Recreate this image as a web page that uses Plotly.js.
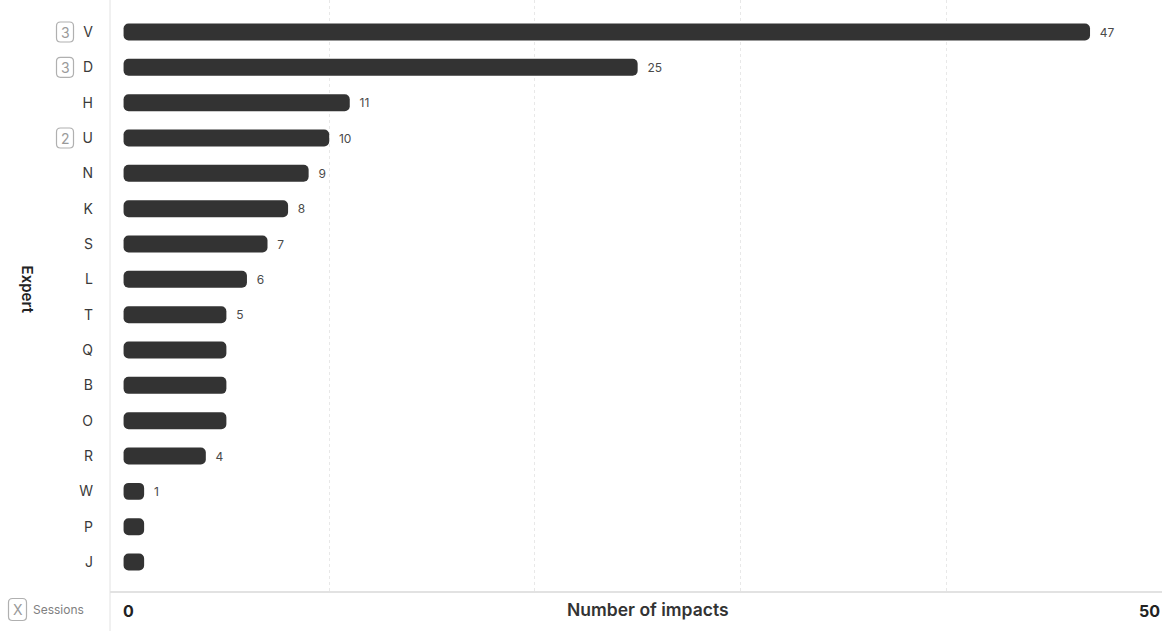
<!DOCTYPE html>
<html>
<head>
<meta charset="utf-8">
<script src="https://cdn.plot.ly/plotly-3.0.1.min.js"></script>
<style>html,body{margin:0;padding:0;background:#fff;}#chart{width:1169px;height:631px;}</style>
</head>
<body>
<div id="chart"></div>
<script>
const experts = ["V","D","H","U","N","K","S","L","T","Q","B","O","R","W","P","J"];
const impacts = [47,25,11,10,9,8,7,6,5,5,5,5,4,1,1,1];
const sessions = [3,3,null,2,null,null,null,null,null,null,null,null,null,null,null,null];
const gridTicks = [10,20,30,40];
const axisEnds = [0,50];

// show a value label only when it differs from the bar above
const labels = impacts.map((v,i) => (i === 0 || impacts[i-1] !== v) ? "\u00a0\u00a0" + v : "");

const FONT = "Inter, 'Liberation Sans', sans-serif";
const PLOT_L = 110, PLOT_W = 1052;
const px2paper = p => (p - PLOT_L) / PLOT_W;

function roundRect(w, h, r) {
  const x0 = -w/2, x1 = w/2, y0 = -h/2, y1 = h/2;
  return `M ${x0+r},${y0} L ${x1-r},${y0} Q ${x1},${y0} ${x1},${y0+r} L ${x1},${y1-r} Q ${x1},${y1} ${x1-r},${y1} ` +
         `L ${x0+r},${y1} Q ${x0},${y1} ${x0},${y1-r} L ${x0},${y0+r} Q ${x0},${y0} ${x0+r},${y0} Z`;
}

// Explicit base so that both bar ends receive the rounded corners.
const bars = {
  type: "bar", orientation: "h", y: experts,
  base: impacts.map(() => 0), x: impacts,
  text: labels, textposition: "outside", cliponaxis: false,
  textfont: {family: FONT, size: 12, color: "#4a4a4a"},
  marker: {color: "#333333", cornerradius: 5}, width: 0.48,
  hoverinfo: "skip"
};

const shapes = [
  {type:"line", xref:"paper", yref:"paper", x0:0, x1:0, y0:-0.07, y1:1, line:{color:"#e2e2e2", width:1}}
];
const annotations = [];

sessions.forEach((s,i) => {
  if (s === null) return;
  shapes.push({type:"path", xref:"paper", yref:"y", xsizemode:"pixel", ysizemode:"pixel",
    xanchor:px2paper(65), yanchor:i, path:roundRect(17,20,4),
    line:{color:"#b0b0b0", width:1.2}, fillcolor:"rgba(0,0,0,0)"});
  annotations.push({
    xref:"paper", yref:"y", x:px2paper(65), y:experts[i], xanchor:"center", yanchor:"middle",
    text:String(s), showarrow:false, font:{family:FONT, size:14, color:"#9a9a9a"}
  });
});

// Sessions legend
shapes.push({type:"path", xref:"paper", yref:"paper", xsizemode:"pixel", ysizemode:"pixel",
  xanchor:px2paper(17.5), yanchor:-0.0313, path:roundRect(18,22,4),
  line:{color:"#b0b0b0", width:1.2}, fillcolor:"rgba(0,0,0,0)"});
annotations.push({xref:"paper", yref:"paper", x:px2paper(17.5), y:-0.0313, text:"X", showarrow:false,
  font:{family:FONT, size:14, color:"#9a9a9a"}, xanchor:"center", yanchor:"middle"});
annotations.push({xref:"paper", yref:"paper", x:px2paper(31), y:-0.0313, text:"Sessions", showarrow:false,
  font:{family:FONT, size:12, color:"#808080"}, xanchor:"left", yanchor:"middle"});

annotations.push({xref:"paper", yref:"paper", x:px2paper(27), y:0.51, text:"Expert", textangle:90,
  showarrow:false, font:{family:FONT, size:15, color:"#222", weight:600}, xanchor:"center", yanchor:"middle"});
annotations.push({xref:"x", yref:"paper", x:axisEnds[0], y:-0.034, text:"<b>" + axisEnds[0] + "</b>", showarrow:false,
  font:{family:FONT, size:16, color:"#222"}, xanchor:"left", yanchor:"middle", xshift:-3});
annotations.push({xref:"paper", yref:"paper", x:1, y:-0.034, text:"<b>" + axisEnds[1] + "</b>", showarrow:false,
  font:{family:FONT, size:16, color:"#222"}, xanchor:"right", yanchor:"middle"});
annotations.push({xref:"paper", yref:"paper", x:px2paper(648), y:-0.032, text:"Number of impacts", showarrow:false,
  font:{family:FONT, size:17.5, color:"#333", weight:600}, xanchor:"center", yanchor:"middle"});

const layout = {
  width:1169, height:631,
  margin:{l:110, r:7, t:0, b:40},
  paper_bgcolor:"#fff", plot_bgcolor:"#fff",
  showlegend:false,
  font:{family:FONT},
  xaxis:{range:[-0.66,50.5], tickvals:gridTicks, showticklabels:false, ticks:"",
    showgrid:true, gridcolor:"#e8e8e8", griddash:"dot", gridwidth:1,
    zeroline:false, showline:true, linecolor:"#e2e2e2", linewidth:1.5, fixedrange:true},
  yaxis:{type:"category", categoryorder:"array", categoryarray:experts, range:[15.82,-0.906],
    showgrid:false, zeroline:false, showline:false, ticks:"", ticklabelstandoff:16,
    tickfont:{family:FONT, size:14, color:"#3a3a3a", weight:400}, fixedrange:true},
  shapes: shapes,
  annotations: annotations
};

Plotly.newPlot("chart", [bars], layout, {displayModeBar:false, staticPlot:true});
</script>
</body>
</html>
